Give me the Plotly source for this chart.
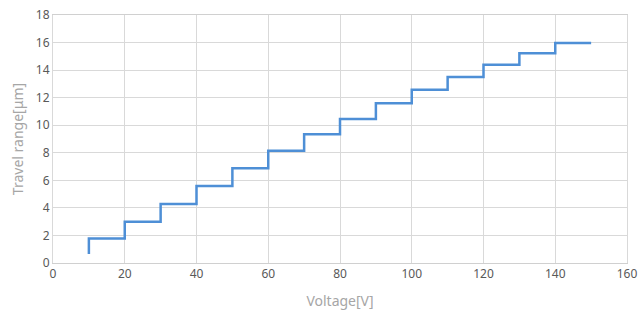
import plotly.graph_objects as go

voltage = [10, 20, 30, 40, 50, 60, 70, 80, 90, 100, 110, 120, 130, 140, 150]
travel = [0.65, 1.77, 3.0, 4.28, 5.58, 6.87, 8.14, 9.34, 10.45, 11.59, 12.58, 13.5, 14.39, 15.22, 15.97]

x_ticks = list(range(0, 161, 20))
y_ticks = list(range(0, 19, 2))

fig = go.Figure()
fig.add_trace(go.Scatter(
    x=voltage, y=travel, mode="lines",
    line=dict(color="#4E8FD6", width=2.5, shape="vh"),
    showlegend=False,
))

font_family = "Noto Sans, Open Sans, sans-serif"
fig.update_layout(
    width=640, height=330,
    margin=dict(l=53, r=13, t=15, b=67),
    paper_bgcolor="white", plot_bgcolor="white",
    font=dict(family=font_family, size=12, color="#595959"),
    xaxis=dict(
        range=[0, 160], tickvals=x_ticks, ticktext=[str(v) for v in x_ticks],
        showgrid=True, gridcolor="#D9D9D9", gridwidth=1,
        showline=True, linecolor="#D0D0D0", linewidth=1, mirror=True,
        zeroline=False, ticks="", ticklen=0, automargin=False,
        title=dict(text="Voltage[V]", font=dict(size=14, color="#A6A6A6"), standoff=14),
        tickfont=dict(size=12, color="#595959"),
    ),
    yaxis=dict(
        range=[0, 18], tickvals=y_ticks, ticktext=[str(v) for v in y_ticks],
        showgrid=True, gridcolor="#D9D9D9", gridwidth=1,
        showline=True, linecolor="#D9D9D9", linewidth=1, mirror=True,
        zeroline=False, ticks="", automargin=False,
        title=dict(text="Travel range[μm]", font=dict(size=14, color="#A6A6A6"), standoff=8),
        tickfont=dict(size=12, color="#595959"),
    ),
)

fig.write_html("out.html", config={"displayModeBar": False},
               post_script="document.body.style.margin='0';")
